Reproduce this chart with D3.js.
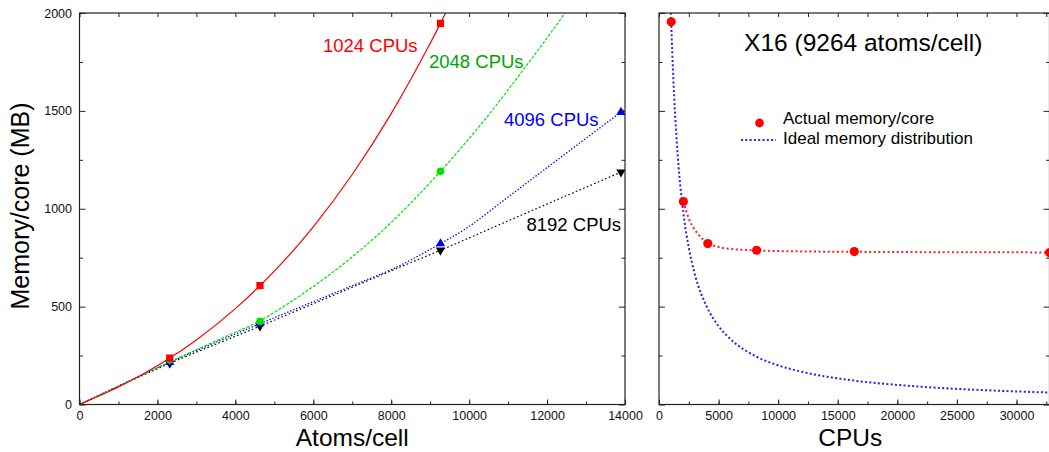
<!DOCTYPE html>
<html><head><meta charset="utf-8">
<script src="https://cdn.jsdelivr.net/npm/d3@7"></script>
<style>
body{margin:0;background:#fff}
text{font-family:"Liberation Sans",Arial,Helvetica,sans-serif}
</style>
</head><body>
<svg id="c" width="1049" height="452"></svg>
<script>
// ---------------- DATA ----------------
// Left panel: memory/core (MB) vs atoms/cell for four CPU counts
const seriesNames = ["1024 CPUs", "2048 CPUs", "4096 CPUs", "8192 CPUs"];
const atoms1024 = [2316, 4632, 9264];
const mem1024   = [237, 607, 1947];
const atoms2048 = [2316, 4632, 9264];
const mem2048   = [228, 425, 1191];
const atoms4096 = [2316, 4632, 9264, 13896];
const mem4096   = [216, 413, 822, 1493];
const atoms8192 = [2316, 4632, 9264, 13896];
const mem8192   = [210, 400, 788, 1187];

// fitted curves
const fit1024X = [0, 1000, 2000, 2316, 3000, 4000, 4632, 5000, 6000, 7000, 8000, 9000, 9264, 9400];
const fit1024Y = [0, 89, 198, 237, 330, 490, 607, 681, 908, 1175, 1486, 1845, 1947, 2002];
const fit2048X = [0, 1000, 2316, 3500, 4632, 5800, 6944, 8000, 9264, 10364, 11390, 12460, 12600];
const fit2048Y = [0, 93, 218, 325, 428, 575, 745, 930, 1191, 1446, 1710, 2000, 2040];
const fit4096X = [0, 1000, 2316, 3500, 4632, 6000, 7000, 8056, 9264, 9851, 11000, 12000, 13000, 13896, 14000];
const fit4096Y = [0, 95, 216, 318, 413, 525, 607, 694, 822, 890, 1060, 1210, 1360, 1493, 1508];
const fit8192X = [0, 2316, 4632, 6000, 8000, 9264, 11000, 13896, 14000];
const fit8192Y = [0, 210, 400, 515, 683, 788, 938, 1187, 1196];

// Right panel: X16 (9264 atoms/cell)
const cpus      = [1024, 2048, 4096, 8192, 16384, 32768];
const actualMem = [1955, 1037, 822, 788, 781, 776];
const actualFitX = [2048, 2500, 3000, 3500, 4096, 5000, 6000, 8192, 12000, 16384, 24000, 32768];
const actualFitY = [1037, 950, 893, 855, 825, 805, 795, 787, 782, 780, 778, 777];
const idealX = [1000, 1024, 1200, 1500, 2048, 2500, 3000, 4096, 5000, 6000, 8192, 10000, 12000, 16384, 20000, 24000, 28000, 32768];
const idealY = [2002, 1955, 1668, 1335, 977, 801, 667, 489, 400, 334, 244, 200, 167, 122, 100, 83, 71.5, 61];

const leftXTicks  = [0, 2000, 4000, 6000, 8000, 10000, 12000, 14000];
const yTicks      = [0, 500, 1000, 1500, 2000];
const rightXTicks = [0, 5000, 10000, 15000, 20000, 25000, 30000];

const legendLabels = ["Actual memory/core", "Ideal memory distribution"];
const titleRight = "X16 (9264 atoms/cell)";

// ---------------- DRAWING ----------------
const svg = d3.select("#c");
const fontTick = 12.5;
const L = {x0: 79.5, x1: 625, y0: 13, y1: 404.5};
const R = {x0: 659, x1: 1049.5, y0: 13, y1: 404.5};

const xL = d3.scaleLinear().domain([0, 14000]).range([L.x0, L.x1]);
const yS = d3.scaleLinear().domain([0, 2000]).range([L.y1, L.y0]);
const xR = d3.scaleLinear().domain([0, 32768]).range([R.x0, R.x1]);

function styleAxis(g){
  g.select(".domain").remove();
  g.selectAll(".tick line").attr("stroke", "#222").attr("stroke-width", 1);
  g.selectAll("text").attr("font-size", fontTick).attr("fill", "#111")
    .style("font-family", '"Liberation Sans",Arial,sans-serif');
}
function range(a, b, s){ const r=[]; for(let v=a; v<=b+1e-9; v+=s) r.push(v); return r; }

function frameAxes(P, x, xTicks, xMinorStep, yLabels){
  const y = yS;
  // bottom
  svg.append("g").attr("transform", `translate(0,${P.y1})`)
    .call(d3.axisBottom(x).tickValues(xTicks).tickSize(-5).tickPadding(7).tickFormat(d3.format("d")))
    .call(styleAxis);
  svg.append("g").attr("transform", `translate(0,${P.y1})`)
    .call(d3.axisBottom(x).tickValues(range(0, x.domain()[1], xMinorStep)).tickSize(-3).tickFormat(""))
    .call(styleAxis);
  // top
  svg.append("g").attr("transform", `translate(0,${P.y0})`)
    .call(d3.axisTop(x).tickValues(range(0, x.domain()[1], xMinorStep)).tickSize(-4).tickFormat(""))
    .call(styleAxis);
  // left
  svg.append("g").attr("transform", `translate(${P.x0},0)`)
    .call(d3.axisLeft(y).tickValues(yTicks).tickSize(-6).tickPadding(7.5).tickFormat(yLabels ? d3.format("d") : ""))
    .call(styleAxis);
  svg.append("g").attr("transform", `translate(${P.x0},0)`)
    .call(d3.axisLeft(y).tickValues(range(250, 1750, 500)).tickSize(-3.5).tickFormat(""))
    .call(styleAxis);
  // right
  svg.append("g").attr("transform", `translate(${P.x1},0)`)
    .call(d3.axisRight(y).tickValues(yTicks).tickSize(-6).tickFormat(""))
    .call(styleAxis);
  svg.append("g").attr("transform", `translate(${P.x1},0)`)
    .call(d3.axisRight(y).tickValues(range(250, 1750, 500)).tickSize(-3.5).tickFormat(""))
    .call(styleAxis);
  // frame
  svg.append("rect").attr("x", P.x0).attr("y", P.y0)
    .attr("width", P.x1 - P.x0).attr("height", P.y1 - P.y0)
    .attr("fill", "none").attr("stroke", "#222").attr("stroke-width", 1.2);
}

// clip paths
const defs = svg.append("defs");
defs.append("clipPath").attr("id", "clipL").append("rect")
  .attr("x", L.x0).attr("y", L.y0).attr("width", L.x1 - L.x0).attr("height", L.y1 - L.y0);
defs.append("clipPath").attr("id", "clipR").append("rect")
  .attr("x", R.x0).attr("y", R.y0).attr("width", R.x1 - R.x0).attr("height", R.y1 - R.y0);

// ---- left panel lines ----
const gL = svg.append("g").attr("clip-path", "url(#clipL)");
const lineL = d3.line().x(d => xL(d[0])).y(d => yS(d[1])).curve(d3.curveMonotoneX);
const zip = (a, b) => a.map((v, i) => [v, b[i]]);

const leftSeries = [
  {fx: fit8192X, fy: fit8192Y, px: atoms8192, py: mem8192, color: "#000", dash: "1.6,2.4", w: 1.2, sym: "down"},
  {fx: fit4096X, fy: fit4096Y, px: atoms4096, py: mem4096, color: "#0000ff", dash: "1.4,1.8", w: 1.3, sym: "up"},
  {fx: fit2048X, fy: fit2048Y, px: atoms2048, py: mem2048, color: "#00e000", dash: "3,1.6", w: 1.2, sym: "circle"},
  {fx: fit1024X, fy: fit1024Y, px: atoms1024, py: mem1024, color: "#ff0000", dash: null, w: 1.2, sym: "square"}
];
leftSeries.forEach(s => {
  gL.append("path").datum(zip(s.fx, s.fy)).attr("d", lineL)
    .attr("fill", "none").attr("stroke", s.color).attr("stroke-width", s.w)
    .attr("stroke-dasharray", s.dash);
});
leftSeries.forEach(s => {
  const type = s.sym === "square" ? d3.symbolSquare : s.sym === "circle" ? d3.symbolCircle : d3.symbolTriangle;
  const size = s.sym === "square" ? 52 : s.sym === "circle" ? 46 : 38;
  const rot = s.sym === "down" ? 180 : 0;
  gL.selectAll(null).data(zip(s.px, s.py)).join("path")
    .attr("d", d3.symbol().type(type).size(size))
    .attr("transform", d => `translate(${xL(d[0])},${yS(d[1])}) rotate(${rot})`)
    .attr("fill", s.color);
});

frameAxes(L, xL, leftXTicks, 1000, true);

// series labels
const labPos = [
  {name: seriesNames[0], x: 323, y: 51.5, c: "#ff0000"},
  {name: seriesNames[1], x: 429, y: 68, c: "#00a400"},
  {name: seriesNames[2], x: 504, y: 125.5, c: "#0000ff"},
  {name: seriesNames[3], x: 526.5, y: 231, c: "#000"}
];
svg.selectAll(null).data(labPos).join("text")
  .attr("x", d => d.x).attr("y", d => d.y).attr("fill", d => d.c)
  .attr("font-size", 18.5).text(d => d.name);

// axis titles left
svg.append("text").attr("transform", `translate(28.5,206) rotate(-90)`)
  .attr("text-anchor", "middle").attr("font-size", 25).attr("fill", "#000").text("Memory/core (MB)");
svg.append("text").attr("x", (L.x0 + L.x1) / 2).attr("y", 446)
  .attr("text-anchor", "middle").attr("font-size", 24.5).attr("fill", "#000").text("Atoms/cell");

// ---- right panel ----
const gR = svg.append("g").attr("clip-path", "url(#clipR)");
const lineR = d3.line().x(d => xR(d[0])).y(d => yS(d[1])).curve(d3.curveMonotoneX);
gR.append("path").datum(zip(idealX, idealY)).attr("d", lineR)
  .attr("fill", "none").attr("stroke", "#2020ff").attr("stroke-width", 2)
  .attr("stroke-dasharray", "2,2.3");
gR.append("path").datum(zip(actualFitX, actualFitY)).attr("d", lineR)
  .attr("fill", "none").attr("stroke", "#ff2020").attr("stroke-width", 2)
  .attr("stroke-dasharray", "2,2.6");
gR.selectAll(null).data(zip(cpus, actualMem)).join("circle")
  .attr("cx", d => xR(d[0])).attr("cy", d => yS(d[1])).attr("r", 4.6).attr("fill", "#ff0000");

frameAxes(R, xR, rightXTicks, 2500, false);

svg.append("text").attr("x", (R.x0 + R.x1) / 2 + 9).attr("y", 51)
  .attr("text-anchor", "middle").attr("font-size", 24.5).attr("fill", "#000").text(titleRight);
svg.append("text").attr("x", (R.x0 + R.x1) / 2 - 4).attr("y", 446)
  .attr("text-anchor", "middle").attr("font-size", 24.5).attr("fill", "#000").text("CPUs");

// legend
svg.append("circle").attr("cx", 759.5).attr("cy", 123).attr("r", 4.4).attr("fill", "#ff0000");
svg.append("line").attr("x1", 741).attr("x2", 776).attr("y1", 140).attr("y2", 140)
  .attr("stroke", "#2020ff").attr("stroke-width", 2).attr("stroke-dasharray", "2,2.3");
svg.selectAll(null).data(legendLabels).join("text")
  .attr("x", 783).attr("y", (d, i) => 124 + i * 19.5)
  .attr("font-size", 17).attr("fill", "#000").text(d => d);
</script>
</body></html>
